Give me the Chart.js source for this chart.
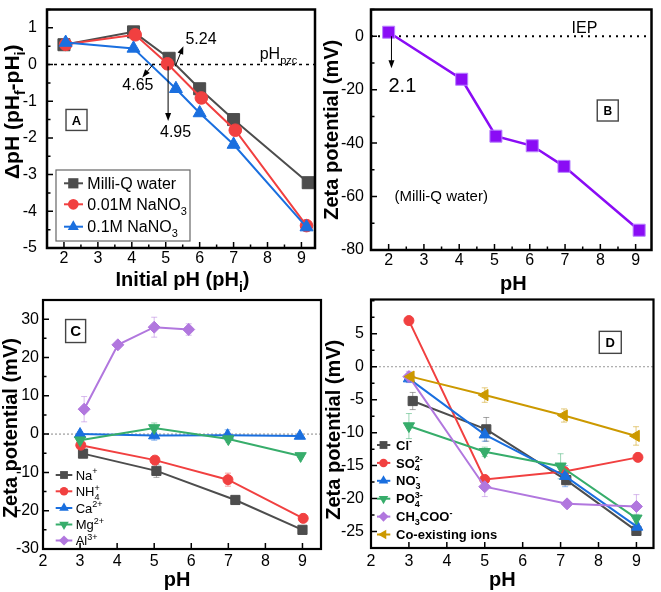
<!DOCTYPE html>
<html>
<head>
<meta charset="utf-8">
<script src="https://cdn.jsdelivr.net/npm/chart.js@4.4.1/dist/chart.umd.min.js"></script>
<style>
  body { margin: 0; background: #fff; width: 661px; height: 592px; position: relative; overflow: hidden; }
  canvas { position: absolute; }
</style>
</head>
<body>
<canvas id="chartA" width="330" height="295" style="left:0;top:0"></canvas>
<canvas id="chartB" width="343" height="295" style="left:318px;top:0"></canvas>
<canvas id="chartC" width="330" height="300" style="left:0;top:292px"></canvas>
<canvas id="chartD" width="343" height="300" style="left:318px;top:292px"></canvas>
<script>
const FONT = '"Liberation Sans", Arial, Helvetica, sans-serif';

// A - pH drift
const phA_water = [2.0, 4.05, 5.1, 6.0, 7.0, 9.2];
const dpH_water = [0.54, 0.89, 0.17, -0.66, -1.5, -3.22];
const phA_na001 = [2.05, 4.1, 5.05, 6.05, 7.05, 9.15];
const dpH_na001 = [0.55, 0.81, 0.02, -0.91, -1.79, -4.39];
const phA_na01 = [2.05, 4.05, 5.3, 6.0, 7.0, 9.15];
const dpH_na01 = [0.6, 0.44, -0.66, -1.32, -2.18, -4.43];
const xTicksA = [2, 3, 4, 5, 6, 7, 8, 9];
const yTicksA = [-5, -4, -3, -2, -1, 0, 1];

// B - zeta potential in Milli-Q water
const phB = [2.0, 4.07, 5.04, 6.07, 6.97, 9.1];
const zetaB = [1.5, -16.1, -37.4, -41.0, -48.7, -72.6];
const xTicksB = [2, 3, 4, 5, 6, 7, 8, 9];
const yTicksB = [-80, -60, -40, -20, 0];

// C - cations
const phC_na = [3.08, 5.06, 7.19, 9.0];
const zC_na = [-5.1, -9.6, -17.2, -25.0];
const eC_na = [1.0, 1.7, 0.6, 0.5];
const phC_nh4 = [3.02, 5.02, 6.99, 9.02];
const zC_nh4 = [-2.9, -6.8, -11.9, -22.0];
const eC_nh4 = [0.6, 0.8, 1.7, 0.5];
const phC_ca = [3.0, 5.0, 6.98, 8.93];
const zC_ca = [0.0, -0.4, -0.3, -0.5];
const eC_ca = [0.5, 1.2, 1.4, 0.4];
const phC_mg = [3.0, 5.0, 7.0, 8.95];
const zC_mg = [-1.6, 1.6, -1.3, -5.7];
const eC_mg = [0.6, 1.3, 0.8, 0.4];
const phC_al = [3.11, 4.02, 5.0, 5.93];
const zC_al = [6.5, 23.3, 27.9, 27.3];
const eC_al = [3.3, 0.5, 2.6, 1.5];
const xTicksC = [2, 3, 4, 5, 6, 7, 8, 9];
const yTicksC = [-30, -20, -10, 0, 10, 20, 30];

// D - anions
const phD_cl = [3.1, 5.04, 7.15, 9.0];
const zD_cl = [-5.2, -9.5, -17.2, -24.9];
const eD_cl = [1.3, 1.8, 0.7, 0.5];
const phD_so4 = [3.0, 5.0, 7.1, 9.04];
const zD_so4 = [7.0, -17.1, -15.9, -13.75];
const eD_so4 = [0.4, 0.6, 0.5, 0.6];
const phD_no3 = [3.0, 5.0, 7.12, 9.02];
const zD_no3 = [-1.8, -10.3, -16.6, -24.3];
const eD_no3 = [0.6, 1.0, 1.6, 0.5];
const phD_po4 = [3.0, 5.0, 7.0, 9.0];
const zD_po4 = [-9.0, -12.9, -15.1, -23.0];
const eD_po4 = [1.9, 0.7, 1.9, 0.6];
const phD_ac = [3.0, 5.0, 7.17, 9.0];
const zD_ac = [-1.5, -18.2, -20.8, -21.2];
const eD_ac = [0.8, 1.5, 0.4, 1.8];
const phD_mix = [3.05, 5.0, 7.09, 8.99];
const zD_mix = [-1.5, -4.3, -7.4, -10.5];
const eD_mix = [0.5, 1.1, 1.0, 1.4];
const xTicksD = [2, 3, 4, 5, 6, 7, 8, 9];
const yTicksD = [-25, -20, -15, -10, -5, 0, 5];

function fade(hex, a) {
  const n = parseInt(hex.slice(1), 16);
  return `rgba(${n >> 16},${(n >> 8) & 255},${n & 255},${a})`;
}

function series(label, xs, ys, color, style, r, rot, err) {
  return {
    label,
    data: xs.map((x, i) => ({ x, y: ys[i] })),
    showLine: true,
    borderColor: color,
    backgroundColor: color,
    pointBackgroundColor: color,
    pointBorderColor: color,
    borderWidth: 2,
    pointRadius: r,
    pointStyle: style,
    pointRotation: rot || 0,
    pointBorderWidth: 1,
    err: err || null,
    errColor: fade(color, 0.5)
  };
}

// text with _{sub} and ^{sup}, sub followed by sup gets stacked
function rich(ctx, s, x, y, size, weight, align) {
  const segs = [];
  let buf = '';
  for (let i = 0; i < s.length; i++) {
    if ((s[i] === '_' || s[i] === '^') && s[i + 1] === '{') {
      if (buf) segs.push({ t: buf, k: 'n' });
      buf = '';
      const end = s.indexOf('}', i);
      segs.push({ t: s.slice(i + 2, end), k: s[i] === '_' ? 'sub' : 'sup' });
      i = end;
    } else buf += s[i];
  }
  if (buf) segs.push({ t: buf, k: 'n' });

  const small = Math.round(size * 0.68);
  const fnt = sz => `${weight} ${sz}px ${FONT}`;
  const items = [];
  let w = 0;
  for (let i = 0; i < segs.length; i++) {
    const g = segs[i];
    if (g.k === 'n') {
      ctx.font = fnt(size);
      items.push({ t: g.t, dx: w, dy: 0, f: fnt(size) });
      w += ctx.measureText(g.t).width;
    } else {
      ctx.font = fnt(small);
      let ww = ctx.measureText(g.t).width;
      items.push({ t: g.t, dx: w, dy: g.k === 'sub' ? size * 0.3 : -size * 0.42, f: fnt(small) });
      const nx = segs[i + 1];
      if (g.k === 'sub' && nx && nx.k === 'sup') {
        items.push({ t: nx.t, dx: w, dy: -size * 0.42, f: fnt(small) });
        ww = Math.max(ww, ctx.measureText(nx.t).width);
        i++;
      }
      w += ww;
    }
  }
  const x0 = align === 'center' ? x - w / 2 : align === 'right' ? x - w : x;
  ctx.textAlign = 'left';
  ctx.textBaseline = 'alphabetic';
  items.forEach(it => { ctx.font = it.f; ctx.fillText(it.t, x0 + it.dx, y + it.dy); });
  return w;
}

function marker(ctx, style, rot, r, cx, cy, color) {
  ctx.save();
  ctx.translate(cx, cy);
  ctx.rotate((rot || 0) * Math.PI / 180);
  ctx.beginPath();
  if (style === 'circle') ctx.arc(0, 0, r, 0, Math.PI * 2);
  else if (style === 'rect') { const s = r * Math.SQRT1_2; ctx.rect(-s, -s, 2 * s, 2 * s); }
  else if (style === 'rectRot') { ctx.moveTo(0, -r); ctx.lineTo(r, 0); ctx.lineTo(0, r); ctx.lineTo(-r, 0); ctx.closePath(); }
  else { ctx.moveTo(0, -r); ctx.lineTo(r * 0.866, r / 2); ctx.lineTo(-r * 0.866, r / 2); ctx.closePath(); }
  ctx.fillStyle = color;
  ctx.fill();
  ctx.restore();
}

function arrow(ctx, x1, y1, x2, y2) {
  const ang = Math.atan2(y2 - y1, x2 - x1);
  ctx.strokeStyle = '#000';
  ctx.fillStyle = '#000';
  ctx.lineWidth = 1;
  ctx.beginPath();
  ctx.moveTo(x1, y1);
  ctx.lineTo(x2 - Math.cos(ang) * 5, y2 - Math.sin(ang) * 5);
  ctx.stroke();
  ctx.beginPath();
  ctx.moveTo(x2, y2);
  ctx.lineTo(x2 - Math.cos(ang) * 8 + Math.sin(ang) * 3, y2 - Math.sin(ang) * 8 - Math.cos(ang) * 3);
  ctx.lineTo(x2 - Math.cos(ang) * 8 - Math.sin(ang) * 3, y2 - Math.sin(ang) * 8 + Math.cos(ang) * 3);
  ctx.closePath();
  ctx.fill();
}

function decor(s) {
  return {
    id: 'decor',
    beforeDatasetsDraw(chart) {
      const { ctx, chartArea: a, scales: { x, y } } = chart;
      ctx.save();
      const z = y.getPixelForValue(0);
      ctx.strokeStyle = s.zero.color;
      ctx.lineWidth = s.zero.width;
      ctx.setLineDash(s.zero.dash);
      ctx.beginPath();
      ctx.moveTo(a.left, z);
      ctx.lineTo(a.right, z);
      ctx.stroke();
      ctx.setLineDash([]);
      chart.data.datasets.forEach(ds => {
        if (!ds.err) return;
        ctx.strokeStyle = ds.errColor;
        ctx.lineWidth = 1;
        ds.data.forEach((p, i) => {
          const px = x.getPixelForValue(p.x);
          const y1 = y.getPixelForValue(p.y - ds.err[i]);
          const y2 = y.getPixelForValue(p.y + ds.err[i]);
          ctx.beginPath();
          ctx.moveTo(px, y1); ctx.lineTo(px, y2);
          ctx.moveTo(px - 3, y1); ctx.lineTo(px + 3, y1);
          ctx.moveTo(px - 3, y2); ctx.lineTo(px + 3, y2);
          ctx.stroke();
        });
      });
      ctx.restore();
    },
    afterDraw(chart) {
      const { ctx, chartArea: a, scales: { x, y } } = chart;
      ctx.save();
      // frame
      ctx.strokeStyle = '#000';
      ctx.lineWidth = s.frame;
      ctx.strokeRect(a.left, a.top, a.right - a.left, a.bottom - a.top);
      // inward ticks
      ctx.lineWidth = 1.5;
      ctx.beginPath();
      const n1 = Math.ceil(x.min / s.xMinor - 1e-6), n2 = Math.floor(x.max / s.xMinor + 1e-6);
      for (let k = n1; k <= n2; k++) {
        const v = k * s.xMinor, p = x.getPixelForValue(v);
        const len = s.xTicks.some(m => Math.abs(m - v) < 1e-6) ? 6 : 3.5;
        ctx.moveTo(p, a.bottom); ctx.lineTo(p, a.bottom - len);
      }
      const m1 = Math.ceil(y.min / s.yMinor - 1e-6), m2 = Math.floor(y.max / s.yMinor + 1e-6);
      for (let k = m1; k <= m2; k++) {
        const v = k * s.yMinor, p = y.getPixelForValue(v);
        const len = s.yTicks.some(m => Math.abs(m - v) < 1e-6) ? 6 : 3.5;
        ctx.moveTo(a.left, p); ctx.lineTo(a.left + len, p);
      }
      ctx.stroke();
      // axis titles
      ctx.fillStyle = '#000';
      rich(ctx, s.xTitle.text, (a.left + a.right) / 2 + s.xTitle.dx, a.bottom + s.xTitle.dy, s.xTitle.size, 'bold', 'center');
      ctx.save();
      ctx.translate(s.yTitle.x, (a.top + a.bottom) / 2 + s.yTitle.dy);
      ctx.rotate(-Math.PI / 2);
      rich(ctx, s.yTitle.text, 0, s.yTitle.size * 0.36, s.yTitle.size, 'bold', 'center');
      ctx.restore();
      // legend
      const lg = s.legend;
      if (lg) {
        if (lg.box) {
          ctx.strokeStyle = '#666';
          ctx.lineWidth = 1.2;
          ctx.strokeRect(lg.box[0], lg.box[1], lg.box[2], lg.box[3]);
        }
        chart.data.datasets.forEach((ds, i) => {
          const ry = lg.rows[i];
          ctx.strokeStyle = ds.borderColor;
          ctx.lineWidth = 2;
          ctx.beginPath();
          ctx.moveTo(lg.x0, ry); ctx.lineTo(lg.x1, ry);
          ctx.stroke();
          marker(ctx, ds.pointStyle, ds.pointRotation, ds.pointRadius * lg.scale, lg.mx, ry, ds.pointBackgroundColor);
          ctx.fillStyle = '#000';
          rich(ctx, ds.label, lg.tx, ry + lg.size * 0.36, lg.size, lg.weight, 'left');
        });
      }
      // annotations
      (s.notes || []).forEach(nt => {
        if (nt.type === 'arrow') {
          arrow(ctx, x.getPixelForValue(nt.x1), y.getPixelForValue(nt.y1), x.getPixelForValue(nt.x2), y.getPixelForValue(nt.y2));
        } else if (nt.type === 'text') {
          ctx.fillStyle = '#000';
          rich(ctx, nt.text, x.getPixelForValue(nt.x), y.getPixelForValue(nt.y) + nt.size * 0.36, nt.size, 'normal', nt.align || 'center');
        } else if (nt.type === 'box') {
          const cx = x.getPixelForValue(nt.x), cy = y.getPixelForValue(nt.y);
          ctx.fillStyle = '#fff';
          ctx.fillRect(cx - nt.w / 2, cy - nt.h / 2, nt.w, nt.h);
          ctx.strokeStyle = '#444';
          ctx.lineWidth = 1.4;
          ctx.strokeRect(cx - nt.w / 2, cy - nt.h / 2, nt.w, nt.h);
          ctx.fillStyle = '#000';
          rich(ctx, nt.text, cx, cy + nt.size * 0.36, nt.size, 'bold', 'center');
        }
      });
      ctx.restore();
    }
  };
}

function axis(min, max, ticks, pad, fit) {
  return {
    type: 'linear',
    min, max,
    afterBuildTicks: sc => { sc.ticks = ticks.map(v => ({ value: v })); },
    afterFit: sc => {
      fit(sc);
      // keep the plot box where it is, no extra room for edge labels
      sc.paddingTop = 0; sc.paddingBottom = 0; sc.paddingLeft = 0; sc.paddingRight = 0;
    },
    grid: { display: false, drawTicks: false },
    border: { display: false },
    ticks: {
      color: '#000',
      font: { family: FONT, size: 16 },
      padding: pad,
      maxRotation: 0,
      autoSkip: false,
      callback: v => String(v)
    }
  };
}

function makeChart(id, datasets, s) {
  const el = document.getElementById(id);
  datasets.forEach((ds, i) => { ds.order = datasets.length - i; });
  return new Chart(el, {
    type: 'scatter',
    data: { datasets },
    options: {
      responsive: false,
      animation: false,
      events: [],
      layout: { padding: { left: 0, top: s.area[1], right: el.width - s.area[2], bottom: 0 } },
      plugins: { legend: { display: false }, tooltip: { enabled: false } },
      scales: {
        x: axis(s.xMin, s.xMax, s.xTicks, s.xPad, sc => { sc.height = el.height - s.area[3]; }),
        y: axis(s.yMin, s.yMax, s.yTicks, s.yPad, sc => { sc.width = s.area[0]; })
      }
    },
    plugins: [decor(s)]
  });
}

const GRAY = '#4d4d4d', RED = '#F14040', BLUE = '#1A6FDF', GREEN = '#37AD6B', LILAC = '#B177DE', GOLD = '#CC9900';

makeChart('chartA', [
  series('Milli-Q water', phA_water, dpH_water, GRAY, 'rect', 8.5),
  series('0.01M NaNO_{3}', phA_na001, dpH_na001, RED, 'circle', 6.3),
  series('0.1M NaNO_{3}', phA_na01, dpH_na01, BLUE, 'triangle', 7.5)
], {
  area: [47, 3, 315, 248], xMin: 1.5, xMax: 9.4, yMin: -5, yMax: 1.5,
  xTicks: xTicksA, yTicks: yTicksA, xPad: 1, yPad: 10, xMinor: 0.5, yMinor: 0.5, frame: 2.5,
  zero: { color: '#000', width: 1.5, dash: [3, 4] },
  xTitle: { text: 'Initial pH (pH_{i})', dx: 1.5, dy: 37.5, size: 20 },
  yTitle: { text: 'ΔpH (pH_{f}-pH_{i})', x: 11, dy: -17, size: 21 },
  legend: { box: [56, 170, 134, 71], x0: 64, x1: 83, mx: 73.3, tx: 87.3, rows: [183.3, 204.3, 226.7], size: 16, weight: 'normal', scale: 0.85 },
  notes: [
    { type: 'arrow', x1: 5.28, y1: -0.05, x2: 5.52, y2: 0.5 },
    { type: 'text', text: '5.24', x: 6.04, y: 0.72, size: 16 },
    { type: 'arrow', x1: 4.64, y1: 0.02, x2: 4.31, y2: -0.35 },
    { type: 'text', text: '4.65', x: 4.18, y: -0.53, size: 16 },
    { type: 'arrow', x1: 5.07, y1: -0.05, x2: 5.07, y2: -1.54 },
    { type: 'text', text: '4.95', x: 5.29, y: -1.82, size: 16 },
    { type: 'text', text: 'pH_{pzc}', x: 7.77, y: 0.3, size: 16, align: 'left' },
    { type: 'box', text: 'A', x: 2.37, y: -1.51, w: 21, h: 21, size: 13 }
  ]
});

const dsB = series('Milli-Q water', phB, zetaB, '#8a0cf5', 'rect', 8.5);
dsB.borderWidth = 2.5;
dsB.pointBorderColor = '#b882ff';
makeChart('chartB', [dsB], {
  area: [53, 4, 337, 250], xMin: 1.5, xMax: 9.45, yMin: -80, yMax: 10,
  xTicks: xTicksB, yTicks: yTicksB, xPad: 1, yPad: 7, xMinor: 0.5, yMinor: 10, frame: 2.5,
  zero: { color: '#000', width: 2, dash: [2, 5] },
  xTitle: { text: 'pH', dx: 2, dy: 40, size: 20 },
  yTitle: { text: 'Zeta potential (mV)', x: 13, dy: 0, size: 20 },
  notes: [
    { type: 'text', text: 'IEP', x: 7.55, y: 3.3, size: 16 },
    { type: 'arrow', x1: 2.08, y1: 0, x2: 2.08, y2: -12 },
    { type: 'text', text: '2.1', x: 2.39, y: -18.2, size: 20 },
    { type: 'text', text: '(Milli-Q water)', x: 3.49, y: -59.8, size: 15 },
    { type: 'box', text: 'B', x: 8.21, y: -27.8, w: 21, h: 21, size: 12 }
  ]
});

makeChart('chartC', [
  series('Na^{+}', phC_na, zC_na, GRAY, 'rect', 6.5, 0, eC_na),
  series('NH_{4}^{+}', phC_nh4, zC_nh4, RED, 'circle', 5, 0, eC_nh4),
  series('Ca^{2+}', phC_ca, zC_ca, BLUE, 'triangle', 6.5, 0, eC_ca),
  series('Mg^{2+}', phC_mg, zC_mg, GREEN, 'triangle', 6.5, 180, eC_mg),
  series('Al^{3+}', phC_al, zC_al, LILAC, 'rectRot', 6, 0, eC_al)
], {
  area: [43, 8, 321, 257], xMin: 2, xMax: 9.5, yMin: -30, yMax: 35,
  xTicks: xTicksC, yTicks: yTicksC, xPad: 2.5, yPad: 4, xMinor: 1, yMinor: 5, frame: 2.2,
  zero: { color: '#888', width: 1, dash: [2, 2] },
  xTitle: { text: 'pH', dx: -5, dy: 37.4, size: 20 },
  yTitle: { text: 'Zeta potential (mV)', x: 10, dy: 3.6, size: 20 },
  legend: { box: null, x0: 55.7, x1: 72.3, mx: 64, tx: 75.7, rows: [183, 199.3, 216, 232.5, 248.5], size: 13, weight: 'normal', scale: 0.85 },
  notes: [
    { type: 'box', text: 'C', x: 2.88, y: 26.9, w: 20, h: 23, size: 15 }
  ]
});

makeChart('chartD', [
  series('Cl^{-}', phD_cl, zD_cl, GRAY, 'rect', 6.5, 0, eD_cl),
  series('SO_{4}^{2-}', phD_so4, zD_so4, RED, 'circle', 5, 0, eD_so4),
  series('NO_{3}^{-}', phD_no3, zD_no3, BLUE, 'triangle', 6.5, 0, eD_no3),
  series('PO_{4}^{3-}', phD_po4, zD_po4, GREEN, 'triangle', 6.5, 180, eD_po4),
  series('CH_{3}COO^{-}', phD_ac, zD_ac, LILAC, 'rectRot', 6, 0, eD_ac),
  series('Co-existing ions', phD_mix, zD_mix, GOLD, 'triangle', 6.5, -90, eD_mix)
], {
  area: [53, 4, 337, 256], xMin: 2, xMax: 9.45, yMin: -27.5, yMax: 10.2,
  xTicks: xTicksD, yTicks: yTicksD, xPad: 3.5, yPad: 7, xMinor: 1, yMinor: 2.5, frame: 2.2,
  zero: { color: '#999', width: 1, dash: [2, 2] },
  xTitle: { text: 'pH', dx: -10, dy: 37.7, size: 20 },
  yTitle: { text: 'Zeta potential (mV)', x: 15, dy: 6, size: 20 },
  legend: { box: null, x0: 59, x1: 72.3, mx: 65.5, tx: 78, rows: [153, 170.9, 188.8, 206.7, 224.6, 242.5], size: 13, weight: 'bold', scale: 0.85 },
  notes: [
    { type: 'box', text: 'D', x: 8.31, y: 3.7, w: 22, h: 22, size: 13 }
  ]
});
</script>
</body>
</html>
